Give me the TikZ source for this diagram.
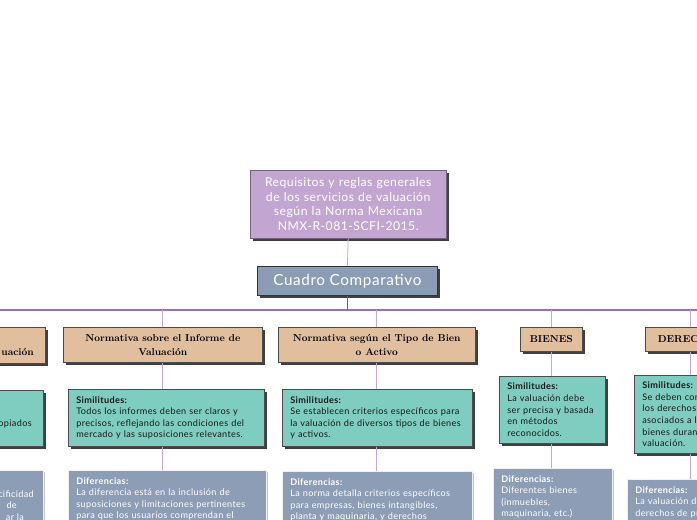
\documentclass[tikz,border=0pt]{standalone}
\usepackage{fontspec}
\setsansfont{Lato}[LetterSpace=4]
\definecolor{lav}{HTML}{C3A5D2}
\definecolor{slate}{HTML}{8B9CB4}
\definecolor{tanc}{HTML}{E1BE9E}
\definecolor{tealc}{HTML}{7ECDC0}
\definecolor{difc}{HTML}{8D9DB6}
\definecolor{lnl}{HTML}{C9A3DB}
\definecolor{lnd}{HTML}{8A4BB3}
\definecolor{busc}{HTML}{9B6CC4}
\begin{document}
\begin{tikzpicture}[x=1pt,y=-1pt,
  shad/.style={preaction={fill=black!75,transform canvas={xshift=2.5pt,yshift=-2.5pt}}},
  topbox/.style={shad, fill=lav, draw=lav!60!black, line width=0.4pt, text=white,
     font=\sffamily\fontsize{12.2}{14.7}\selectfont, align=center, text width=186pt,
     inner xsep=5pt, inner ysep=5pt, minimum height=68pt},
  cuadro/.style={shad, fill=slate, draw=black!80, line width=0.8pt, text=white,
     font=\sffamily\fontsize{15.3}{17}\selectfont, minimum width=180pt, minimum height=29pt},
  head/.style={shad, fill=tanc, draw=black!70, line width=0.6pt,
     font=\rmfamily\bfseries\fontsize{10}{14}\selectfont, align=center},
  sim/.style={shad, fill=tealc, draw=black!70, line width=0.6pt, text=black!90,
     font=\sffamily\fontsize{9.1}{11.6}\selectfont, align=left, anchor=north west,
     inner xsep=8pt, inner ysep=6pt},
  dif/.style={preaction={fill=black!22,transform canvas={xshift=1.5pt,yshift=-1.5pt}},
     fill=difc, draw=white!88!gray, line width=0.6pt, text=white,
     font=\sffamily\fontsize{9.1}{11.6}\selectfont, align=left, anchor=north west,
     inner xsep=8pt, inner ysep=7pt},
  simtxt/.style={font=\sffamily\fontsize{9.1}{11.6}\selectfont, text=black!90, inner sep=0pt},
  diftxt/.style={font=\sffamily\fontsize{9.1}{11.6}\selectfont, text=white, inner sep=0pt},
  link/.style={draw=lnl, line width=0.8pt},
  busline/.style={draw=busc, line width=1.1pt},
  darklink/.style={draw=lnd, line width=1.6pt}]
\useasboundingbox (0,0) rectangle (697,520);
\clip (0,0) rectangle (697,520);
\fill[white] (0,0) rectangle (697,520);

% top
\node[topbox, anchor=north west, minimum width=196pt] (top) at (250,170)
  {Requisitos y reglas generales\\de los servicios de valuación\\según la Norma Mexicana\\NMX-R-081-SCFI-2015.};
\node[cuadro, anchor=north west] (cc) at (257,266) {Cuadro Comparativo};
\draw[link] (top.south) -- (cc.north);

% bus
\coordinate (busL) at (0,310);
\coordinate (busR) at (697,310);
\draw[busline] (busL) -- (busR);
\coordinate (ccb) at (cc.south |- busL);
\draw[darklink] (cc.south) -- (ccb);

% headers
\node[head, anchor=north east, minimum width=196pt, minimum height=36pt] (h0) at (46,327) {};
\node[anchor=base east, inner sep=0pt, font=\rmfamily\bfseries\fontsize{10}{14}\selectfont] (h0t) at (34,355) {uación};
\node[head, anchor=north west, minimum width=199pt, minimum height=35pt] (h1) at (63,327)
  {Normativa sobre el Informe de\\Valuación};
\node[head, anchor=north west, minimum width=197pt, minimum height=35pt] (h2) at (278,327)
  {Normativa según el Tipo de Bien\\o Activo};
\node[head, anchor=north west, minimum width=62pt, minimum height=24pt] (h3) at (520,327) {BIENES};
\node[head, anchor=north west, minimum width=90pt, minimum height=24pt] (h4) at (645,327) {DERECHOS};

\coordinate (b1) at (h1.north |- busL);
\coordinate (b2) at (h2.north |- busL);
\coordinate (b3) at (h3.north |- busL);
\coordinate (b4) at (h4.north |- busL);
\draw[link] (b1) -- (h1.north);
\draw[link] (b2) -- (h2.north);
\draw[link] (b3) -- (h3.north);
\draw[link] (b4) -- (h4.north);

% similitudes
\node[sim, anchor=north east, minimum width=196pt, minimum height=56pt] (s0) at (44,390) {};
\node[simtxt, anchor=base east] (s0t) at (32,426) {opiados};
\node[sim, text width=180pt, minimum height=57pt] (s1) at (68,389)
  {\textbf{Similitudes:}\\Todos los informes deben ser claros y\\precisos, reflejando las condiciones del\\mercado y las suposiciones relevantes.};
\node[sim, text width=174pt, minimum height=57pt] (s2) at (282,389)
  {\textbf{Similitudes:}\\Se establecen criterios específicos para\\la valuación de diversos tipos de bienes\\y activos.};
\node[sim, text width=90pt, minimum height=67pt] (s3) at (499,376)
  {\textbf{Similitudes:}\\La valuación debe\\ser precisa y basada\\en métodos\\reconocidos.};
\node[sim, text width=114pt, minimum height=78pt] (s4) at (634,375)
  {\textbf{Similitudes:}\\Se deben considerar\\los derechos\\asociados a los\\bienes durante la\\valuación.};

\draw[link] (h1.south) -- (h1.south |- s1.north);
\draw[link] (h2.south) -- (h2.south |- s2.north);
\draw[link] (h3.south) -- (h3.south |- s3.north);
\draw[link] (h4.south) -- (h4.south |- s4.north);

% diferencias
\node[dif, anchor=north east, minimum width=196pt, minimum height=60pt] (d0) at (44,470) {};
\node[diftxt, anchor=base east] (d0a) at (34,497) {cificidad};
\node[diftxt, anchor=base east] (d0b) at (17,508.5) {de};
\node[diftxt, anchor=base east] (d0c) at (24,520) {ar la};
\node[dif, text width=182pt] (d1) at (68,470)
  {\textbf{Diferencias:}\\La diferencia está en la inclusión de\\suposiciones y limitaciones pertinentes\\para que los usuarios comprendan el};
\node[dif, text width=174pt] (d2) at (282,471)
  {\textbf{Diferencias:}\\La norma detalla criterios específicos\\para empresas, bienes intangibles,\\planta y maquinaria, y derechos};
\node[dif, text width=103pt] (d3) at (493,468)
  {\textbf{Diferencias:}\\Diferentes bienes\\(inmuebles,\\maquinaria, etc.)};
\node[dif, text width=124pt] (d4) at (627,479)
  {\textbf{Diferencias:}\\La valuación de\\derechos de propiedad};

\draw[link] (s1.south -| h1.south) -- (h1.south |- d1.north);
\draw[link] (s2.south -| h2.south) -- (h2.south |- d2.north);
\draw[link] (s3.south -| h3.south) -- (h3.south |- d3.north);
\draw[link] (s4.south -| h4.south) -- (h4.south |- d4.north);
\end{tikzpicture}
\end{document}
